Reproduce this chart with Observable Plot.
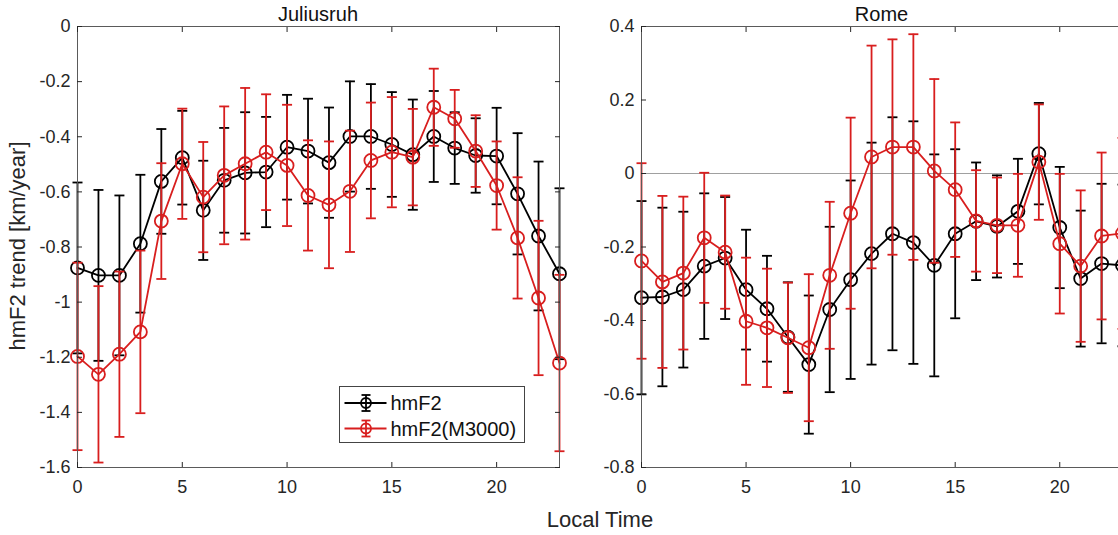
<!DOCTYPE html>
<html>
<head>
<meta charset="utf-8">
<script src="https://cdn.jsdelivr.net/npm/d3@7"></script>
<script src="https://cdn.jsdelivr.net/npm/@observablehq/plot@0.6"></script>
<style>
  html, body { margin: 0; padding: 0; background: #fff; overflow: hidden; }
  #wrap { position: relative; width: 1130px; height: 535px; display: flex; font-family: "Liberation Sans", Arial, sans-serif; }
  #wrap svg { max-width: none; }
  #overlay { position: absolute; left: 0; top: 0; pointer-events: none; }
</style>
</head>
<body>
<div id="wrap">
  <div id="left" style="width:590px"></div>
  <div id="right" style="width:540px"></div>
  <svg id="overlay" width="1118" height="535"></svg>
</div>
<script>
// ---- data ----
const hours = d3.range(0, 24);
const xTicks = [0, 5, 10, 15, 20];
const yTicksJuliusruh = [0, -0.2, -0.4, -0.6, -0.8, -1, -1.2, -1.4, -1.6];
const yTicksRome = [0.4, 0.2, 0, -0.2, -0.4, -0.6, -0.8];
const panelTitles = ["Juliusruh", "Rome"];
const seriesNames = ["hmF2", "hmF2(M3000)"];
const seriesColors = ["#000000", "#d81e1e"];

// Juliusruh
const julHmF2 = [-0.876, -0.903, -0.903, -0.788, -0.562, -0.476, -0.667, -0.558, -0.531, -0.528, -0.438, -0.452,
                 -0.494, -0.399, -0.399, -0.428, -0.465, -0.399, -0.441, -0.468, -0.470, -0.607, -0.760, -0.897];
const julHmF2Err = [0.31, 0.31, 0.29, 0.25, 0.19, 0.17, 0.18, 0.19, 0.22, 0.20, 0.19, 0.19,
                    0.20, 0.20, 0.19, 0.19, 0.20, 0.165, 0.13, 0.135, 0.175, 0.22, 0.27, 0.31];
const julM3000 = [-1.197, -1.262, -1.189, -1.108, -0.706, -0.498, -0.619, -0.540, -0.498, -0.456, -0.504, -0.613,
                  -0.647, -0.598, -0.486, -0.456, -0.474, -0.293, -0.335, -0.452, -0.577, -0.767, -0.985, -1.221];
const julM3000Err = [0.34, 0.32, 0.30, 0.295, 0.21, 0.20, 0.20, 0.25, 0.275, 0.21, 0.22, 0.20,
                     0.23, 0.22, 0.21, 0.20, 0.175, 0.14, 0.105, 0.13, 0.16, 0.22, 0.28, 0.32];

// Rome
const romeHmF2 = [-0.338, -0.336, -0.316, -0.252, -0.230, -0.316, -0.368, -0.445, -0.520, -0.370, -0.289, -0.218,
                  -0.164, -0.188, -0.250, -0.164, -0.130, -0.144, -0.103, 0.054, -0.147, -0.286, -0.245, -0.250];
const romeHmF2Err = [0.263, 0.243, 0.212, 0.198, 0.166, 0.163, 0.144, 0.149, 0.188, 0.225, 0.27, 0.302,
                     0.317, 0.33, 0.302, 0.23, 0.16, 0.139, 0.143, 0.138, 0.165, 0.185, 0.217, 0.22];
const romeM3000 = [-0.238, -0.295, -0.271, -0.175, -0.214, -0.402, -0.420, -0.447, -0.474, -0.277, -0.108, 0.045,
                   0.072, 0.072, 0.007, -0.044, -0.129, -0.141, -0.141, 0.031, -0.191, -0.252, -0.170, -0.163];
const romeM3000Err = [0.266, 0.234, 0.208, 0.177, 0.154, 0.173, 0.161, 0.15, 0.20, 0.20, 0.26, 0.303,
                      0.293, 0.307, 0.25, 0.183, 0.138, 0.13, 0.14, 0.157, 0.19, 0.206, 0.227, 0.26];

// ---- helpers ----
const FONT = '"Liberation Sans", Arial, sans-serif';
const capSymbol = {draw(ctx, size) { const w = Math.sqrt(size / Math.PI); ctx.moveTo(-w, 0); ctx.lineTo(w, 0); }};
const fmt = d => String(+d.toFixed(1));

function rows(values, errs) {
  return hours.map((h, i) => ({hour: h, value: values[i], lo: values[i] - errs[i], hi: values[i] + errs[i]}));
}

function seriesMarks(data, color) {
  return [
    Plot.ruleX(data, {x: "hour", y1: "lo", y2: "hi", stroke: color, strokeWidth: 1.8}),
    Plot.dot(data, {x: "hour", y: "lo", symbol: capSymbol, r: 5, stroke: color, fill: "none", strokeWidth: 1.8}),
    Plot.dot(data, {x: "hour", y: "hi", symbol: capSymbol, r: 5, stroke: color, fill: "none", strokeWidth: 1.8}),
    Plot.line(data, {x: "hour", y: "value", stroke: color, strokeWidth: 1.8}),
    Plot.dot(data, {x: "hour", y: "value", r: 6.5, stroke: color, fill: "none", strokeWidth: 1.8})
  ];
}

function panel({width, marginLeft, marginRight, yDomain, yTicks, series, zeroLine}) {
  return Plot.plot({
    width, height: 535,
    marginTop: 26, marginBottom: 68, marginLeft, marginRight,
    style: {fontFamily: FONT, background: "white", overflow: "visible"},
    x: {domain: [0, 23]},
    y: {domain: yDomain},
    marks: [
      zeroLine ? Plot.ruleY([0], {stroke: "#a0a0a0", strokeWidth: 1}) : null,
      ...series.flatMap(s => seriesMarks(s.data, s.color)),
      Plot.frame({stroke: "#5a5a5a", strokeWidth: 1}),
      Plot.axisX(xTicks, {anchor: "bottom", tickSize: -5, tickPadding: 18, fontSize: 18, color: "#262626", label: null, tickFormat: fmt}),
      Plot.axisX(xTicks, {anchor: "top", tickSize: -5, tickFormat: () => "", color: "#262626", label: null}),
      Plot.axisY(yTicks, {anchor: "left", tickSize: -5, tickPadding: 12, fontSize: 18, color: "#262626", label: null, tickFormat: fmt}),
      Plot.axisY(yTicks, {anchor: "right", tickSize: -5, tickFormat: () => "", color: "#262626", label: null})
    ]
  });
}

document.getElementById("left").appendChild(panel({
  width: 590, marginLeft: 77, marginRight: 31,
  yDomain: [-1.6, 0], yTicks: yTicksJuliusruh,
  series: [{data: rows(julHmF2, julHmF2Err), color: seriesColors[0]},
           {data: rows(julM3000, julM3000Err), color: seriesColors[1]}]
}));

document.getElementById("right").appendChild(panel({
  width: 540, marginLeft: 51, marginRight: 8,
  yDomain: [-0.8, 0.4], yTicks: yTicksRome, zeroLine: true,
  series: [{data: rows(romeHmF2, romeHmF2Err), color: seriesColors[0]},
           {data: rows(romeM3000, romeM3000Err), color: seriesColors[1]}]
}));

// ---- overlay: titles, axis titles and legend ----
const ov = d3.select("#overlay").style("font-family", FONT);
[[318, panelTitles[0]], [881.5, panelTitles[1]]].forEach(([x, t]) => {
  ov.append("text").attr("x", x).attr("y", 20.5).attr("text-anchor", "middle")
    .attr("font-size", 20).attr("fill", "#111").text(t);
});
ov.append("text").attr("transform", "translate(25,246) rotate(-90)").attr("text-anchor", "middle")
  .attr("font-size", 22).attr("fill", "#262626").text("hmF2 trend [km/year]");
ov.append("text").attr("x", 600).attr("y", 527).attr("text-anchor", "middle")
  .attr("font-size", 22).attr("fill", "#262626").text("Local Time");

const lg = ov.append("g").attr("transform", "translate(339.5,386.5)");
lg.append("rect").attr("width", 185).attr("height", 56).attr("fill", "white").attr("stroke", "#444").attr("stroke-width", 1);
seriesNames.forEach((name, i) => {
  const y = 16.5 + i * 25.5, c = seriesColors[i];
  const g = lg.append("g").attr("stroke", c).attr("stroke-width", 1.8).attr("fill", "none");
  g.append("line").attr("x1", 5).attr("x2", 47).attr("y1", y).attr("y2", y);
  g.append("line").attr("x1", 26.5).attr("x2", 26.5).attr("y1", y - 8).attr("y2", y + 8);
  g.append("line").attr("x1", 22).attr("x2", 31).attr("y1", y - 8).attr("y2", y - 8);
  g.append("line").attr("x1", 22).attr("x2", 31).attr("y1", y + 8).attr("y2", y + 8);
  g.append("circle").attr("cx", 26.5).attr("cy", y).attr("r", 5);
  lg.append("text").attr("x", 51).attr("y", y).attr("dy", "0.36em").attr("font-size", 20)
    .attr("fill", "#111").text(name);
});
</script>
</body>
</html>
